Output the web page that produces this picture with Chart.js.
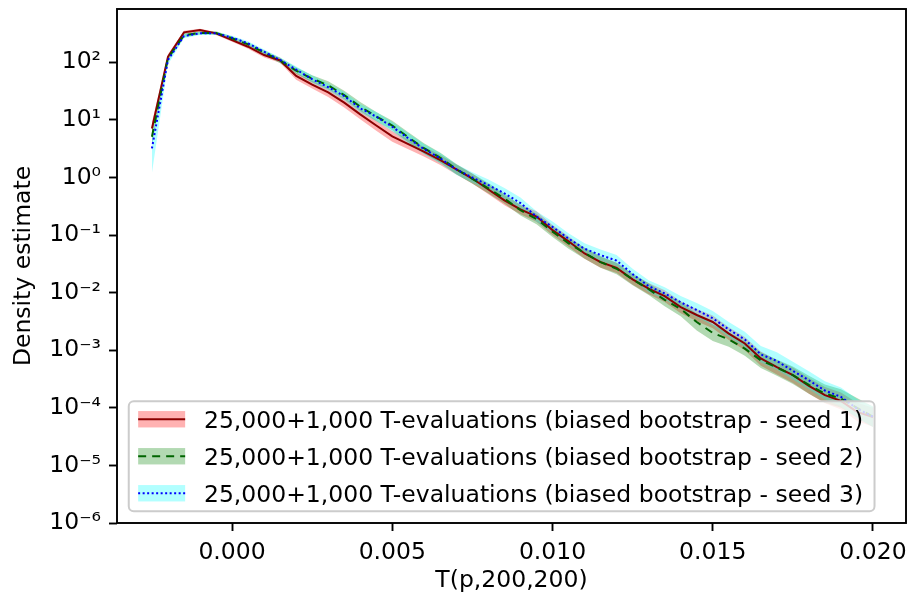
<!DOCTYPE html>
<html>
<head>
<meta charset="utf-8">
<script src="https://cdn.jsdelivr.net/npm/chart.js@4.4.1/dist/chart.umd.min.js"></script>
<style>
  html, body { margin: 0; padding: 0; background: #fff; }
  #wrap { width: 909px; height: 595px; }
</style>
</head>
<body>
<div id="wrap"><canvas id="density" width="909" height="595"></canvas></div>
<script>
// bin centres of T(p,200,200)
const tValues = [-0.0025, -0.002, -0.0015, -0.001, -0.0005, 0, 0.0005, 0.001, 0.0015, 0.002,
  0.0025, 0.003, 0.0035, 0.004, 0.0045, 0.005, 0.0055, 0.006, 0.0065, 0.007,
  0.0075, 0.008, 0.0085, 0.009, 0.0095, 0.01, 0.0105, 0.011, 0.0115, 0.012,
  0.0125, 0.013, 0.0135, 0.014, 0.0145, 0.015, 0.0155, 0.016, 0.0165, 0.017,
  0.0175, 0.018, 0.0185, 0.019, 0.0195, 0.02];

// seed 1
const seed1 = [7.1, 125, 332, 364, 319, 244, 187, 134, 108, 58,
  41, 30, 20, 12.5, 8.0, 5.2, 3.8, 2.8, 2.0, 1.38,
  0.96, 0.62, 0.40, 0.28, 0.21, 0.122, 0.078, 0.048, 0.034, 0.027,
  0.017, 0.0118, 0.0087, 0.0056, 0.0041, 0.0031, 0.00195, 0.00131, 0.00072, 0.00051,
  0.00037, 0.00024, 0.000166, 0.000132, 0.000085, 0.000069];
const seed1Low = [5.5, 112, 310, 345, 300, 228, 172, 122, 98, 50,
  35, 25, 16.5, 10.3, 6.5, 4.2, 3.1, 2.3, 1.65, 1.13,
  0.79, 0.51, 0.33, 0.23, 0.17, 0.099, 0.063, 0.039, 0.027, 0.022,
  0.0137, 0.0094, 0.0069, 0.0044, 0.0032, 0.0024, 0.0015, 0.001, 0.00054, 0.00038,
  0.00027, 0.000175, 0.00012, 0.000094, 0.000059, 0.000047];
const seed1High = [9.0, 138, 355, 385, 338, 262, 204, 148, 120, 66,
  48, 35, 24, 15.2, 9.8, 6.4, 4.6, 3.4, 2.45, 1.68,
  1.17, 0.76, 0.49, 0.34, 0.26, 0.15, 0.096, 0.059, 0.042, 0.033,
  0.021, 0.0148, 0.011, 0.0071, 0.0052, 0.004, 0.00252, 0.0017, 0.00095, 0.00068,
  0.0005, 0.00033, 0.00023, 0.000185, 0.000122, 0.0001];

// seed 2
const seed2 = [5.1, 118, 295, 325, 325, 262, 205, 148, 108, 72,
  52, 40, 27, 17, 11.5, 8.0, 5.0, 3.2, 2.2, 1.4,
  0.95, 0.65, 0.43, 0.27, 0.19, 0.115, 0.072, 0.049, 0.034, 0.026,
  0.017, 0.0115, 0.0075, 0.0052, 0.0031, 0.002, 0.00154, 0.00107, 0.00067, 0.0005,
  0.00037, 0.00025, 0.000177, 0.000145, 0.0001, 0.00007];
const seed2Low = [3.6, 105, 272, 305, 305, 245, 190, 135, 97, 63,
  45, 34, 23, 14.3, 9.6, 6.6, 4.1, 2.6, 1.8, 1.14,
  0.78, 0.53, 0.35, 0.22, 0.155, 0.093, 0.058, 0.039, 0.027, 0.021,
  0.0135, 0.0091, 0.0058, 0.0039, 0.0022, 0.00145, 0.00115, 0.0008, 0.00049, 0.00036,
  0.00026, 0.000175, 0.000122, 0.0001, 0.000068, 0.000046];
const seed2High = [7.0, 132, 318, 346, 346, 280, 222, 162, 120, 82,
  60, 47, 32, 20.5, 13.8, 9.7, 6.1, 3.9, 2.7, 1.72,
  1.16, 0.8, 0.53, 0.33, 0.235, 0.142, 0.089, 0.061, 0.043, 0.033,
  0.0215, 0.0146, 0.0097, 0.0069, 0.0043, 0.0028, 0.00205, 0.00143, 0.00092, 0.00069,
  0.00052, 0.00036, 0.000255, 0.00021, 0.000148, 0.000105];

// seed 3
const seed3 = [3.2, 110, 286, 319, 319, 269, 214, 153, 110, 75,
  51, 37, 26, 15.9, 11.4, 7.6, 4.8, 3.1, 2.15, 1.38,
  1.0, 0.74, 0.53, 0.36, 0.21, 0.139, 0.087, 0.058, 0.045, 0.036,
  0.021, 0.013, 0.0097, 0.0068, 0.005, 0.0036, 0.0023, 0.00154, 0.00085, 0.00065,
  0.00044, 0.0003, 0.0002, 0.000155, 0.000097, 0.00007];
const seed3Low = [1.2, 92, 262, 298, 298, 250, 197, 139, 99, 66,
  44, 32, 22, 13.3, 9.5, 6.3, 3.9, 2.5, 1.75, 1.12,
  0.81, 0.6, 0.43, 0.29, 0.17, 0.112, 0.07, 0.047, 0.036, 0.029,
  0.017, 0.0103, 0.0076, 0.0053, 0.0038, 0.0027, 0.0017, 0.00113, 0.00061, 0.00046,
  0.00031, 0.00021, 0.00014, 0.000107, 0.000066, 0.000047];
const seed3High = [5.5, 128, 310, 340, 340, 289, 232, 168, 122, 85,
  59, 43, 30.5, 19, 13.7, 9.2, 5.9, 3.8, 2.65, 1.7,
  1.24, 0.92, 0.66, 0.45, 0.26, 0.172, 0.108, 0.072, 0.056, 0.045,
  0.026, 0.0165, 0.0124, 0.0088, 0.0066, 0.0048, 0.0031, 0.0021, 0.00118, 0.00092,
  0.00063, 0.00043, 0.00029, 0.000225, 0.000143, 0.000105];

const legendLabels = [
  "25,000+1,000 T-evaluations (biased bootstrap - seed 1)",
  "25,000+1,000 T-evaluations (biased bootstrap - seed 2)",
  "25,000+1,000 T-evaluations (biased bootstrap - seed 3)"
];
const xTicks = [0, 0.005, 0.01, 0.015, 0.02];
const yDecades = [-6, -5, -4, -3, -2, -1, 0, 1, 2];

const FS = 23.5;
const FAMILY = "'DejaVu Sans', sans-serif";
const font = { family: FAMILY, size: FS };

const series = [
  { mid: seed1, low: seed1Low, high: seed1High, band: "rgba(255,0,0,0.3)", line: "#8b0000", dash: [] },
  { mid: seed2, low: seed2Low, high: seed2High, band: "rgba(0,128,0,0.3)", line: "#006400", dash: [8, 6] },
  { mid: seed3, low: seed3Low, high: seed3High, band: "rgba(0,255,255,0.3)", line: "#0000ff", dash: [2, 2.5] }
];

const pts = arr => arr.map((v, i) => ({ x: tValues[i], y: v }));

const datasets = [];
series.forEach((s, k) => {
  datasets.push({ label: "low" + k, data: pts(s.low), borderWidth: 0, pointRadius: 0, fill: false, order: 9 - k });
  datasets.push({ label: "high" + k, data: pts(s.high), borderWidth: 0, pointRadius: 0, fill: "-1",
    backgroundColor: s.band, order: 9 - k });
});
series.forEach((s, k) => {
  datasets.push({ label: legendLabels[k], data: pts(s.mid), borderColor: s.line, borderWidth: 2,
    borderDash: s.dash, pointRadius: 0, fill: false, tension: 0, order: 3 - k });
});

const isDecade = v => {
  const e = Math.round(Math.log10(v));
  return Math.abs(v - Math.pow(10, e)) < 1e-9 * v;
};
const sup = { "-": "\u207B", "0": "\u2070", "1": "\u00B9", "2": "\u00B2", "3": "\u00B3",
  "4": "\u2074", "5": "\u2075", "6": "\u2076", "7": "\u2077", "8": "\u2078", "9": "\u2079" };

// minor log ticks and the box around the axes
const framePlugin = {
  id: "frame",
  afterDatasetsDraw(chart) {
    const { ctx, chartArea: a, scales: { y } } = chart;
    ctx.save();
    ctx.strokeStyle = "#000";
    ctx.lineWidth = 1.4;
    y.ticks.forEach(t => {
      if (isDecade(t.value)) return;
      const py = Math.round(y.getPixelForValue(t.value)) + 0.5;
      ctx.beginPath();
      ctx.moveTo(a.left - 4.7, py);
      ctx.lineTo(a.left, py);
      ctx.stroke();
    });
    ctx.lineWidth = 1.9;
    ctx.strokeRect(a.left, a.top, a.right - a.left, a.bottom - a.top);
    ctx.restore();
  }
};

// legend in the lower left corner, matplotlib style
const legendPlugin = {
  id: "bandLegend",
  afterDraw(chart) {
    const { ctx, chartArea: a } = chart;
    ctx.save();
    ctx.font = FS + "px " + FAMILY;
    const textW = Math.max(...legendLabels.map(s => ctx.measureText(s).width));
    const pad = 0.4 * FS, handleW = 2 * FS, gap = 0.8 * FS, rowH = 37;
    const w = pad + handleW + gap + textW + pad + 2;
    const h = 36 + 2 * rowH;
    const x0 = a.left + 0.5 * FS, y0 = a.bottom - 0.5 * FS - h;
    ctx.beginPath();
    ctx.roundRect(x0, y0, w, h, 5);
    ctx.fillStyle = "rgba(255,255,255,0.8)";
    ctx.fill();
    ctx.strokeStyle = "#cccccc";
    ctx.lineWidth = 2;
    ctx.stroke();
    series.forEach((s, i) => {
      const cy = y0 + 18 + i * rowH;
      ctx.fillStyle = "#fff";
      ctx.fillRect(x0 + pad, cy - 8.2, handleW, 16.4);
      ctx.fillStyle = s.band;
      ctx.fillRect(x0 + pad, cy - 8.2, handleW, 16.4);
      ctx.beginPath();
      ctx.setLineDash(s.dash);
      ctx.strokeStyle = s.line;
      ctx.lineWidth = 2;
      ctx.moveTo(x0 + pad, cy);
      ctx.lineTo(x0 + pad + handleW, cy);
      ctx.stroke();
      ctx.setLineDash([]);
      ctx.fillStyle = "#000";
      ctx.textBaseline = "alphabetic";
      ctx.fillText(legendLabels[i], x0 + pad + handleW + gap, cy + 8.5);
    });
    ctx.restore();
  }
};

new Chart(document.getElementById("density"), {
  type: "line",
  data: { datasets },
  plugins: [framePlugin, legendPlugin],
  options: {
    responsive: false,
    animation: false,
    layout: { padding: { top: 9, right: 3, left: 0, bottom: 0 } },
    plugins: { legend: { display: false }, tooltip: { enabled: false } },
    scales: {
      x: {
        type: "linear",
        min: -0.00359,
        max: 0.02103,
        afterBuildTicks: s => { s.ticks = xTicks.map(v => ({ value: v })); },
        afterFit: s => { s.height = 72; s.paddingLeft = 0; s.paddingRight = 0; },
        ticks: { callback: v => v.toFixed(3), font, color: "#000", padding: 8, maxRotation: 0, autoSkip: false },
        grid: { drawOnChartArea: false, tickLength: 8, tickWidth: 1.9, tickColor: "#000" },
        border: { display: false },
        title: { display: true, text: "T(p,200,200)", font, color: "#000", padding: { top: 0, bottom: 0 } }
      },
      y: {
        type: "logarithmic",
        min: 1e-6,
        max: 845,
        afterBuildTicks: s => {
          const t = [];
          yDecades.forEach(e => {
            for (let m = 1; m <= 9; m++) {
              const v = m * Math.pow(10, e);
              if (v <= 845) t.push({ value: v, major: m === 1 });
            }
          });
          s.ticks = t;
        },
        afterFit: s => { s.width = 117; s.paddingTop = 0; s.paddingBottom = 0; },
        ticks: {
          autoSkip: false,
          padding: 8,
          font,
          color: "#000",
          callback: v => isDecade(v) ? "10" + String(Math.round(Math.log10(v))).split("").map(c => sup[c]).join("") : null
        },
        grid: {
          drawOnChartArea: false,
          tickLength: 8,
          tickWidth: 1.9,
          tickColor: c => (c.tick && isDecade(c.tick.value)) ? "#000" : "rgba(0,0,0,0)"
        },
        border: { display: false },
        title: { display: true, text: "Density estimate", font, color: "#000", padding: { top: 10, bottom: 0 } }
      }
    }
  }
});
</script>
</body>
</html>
